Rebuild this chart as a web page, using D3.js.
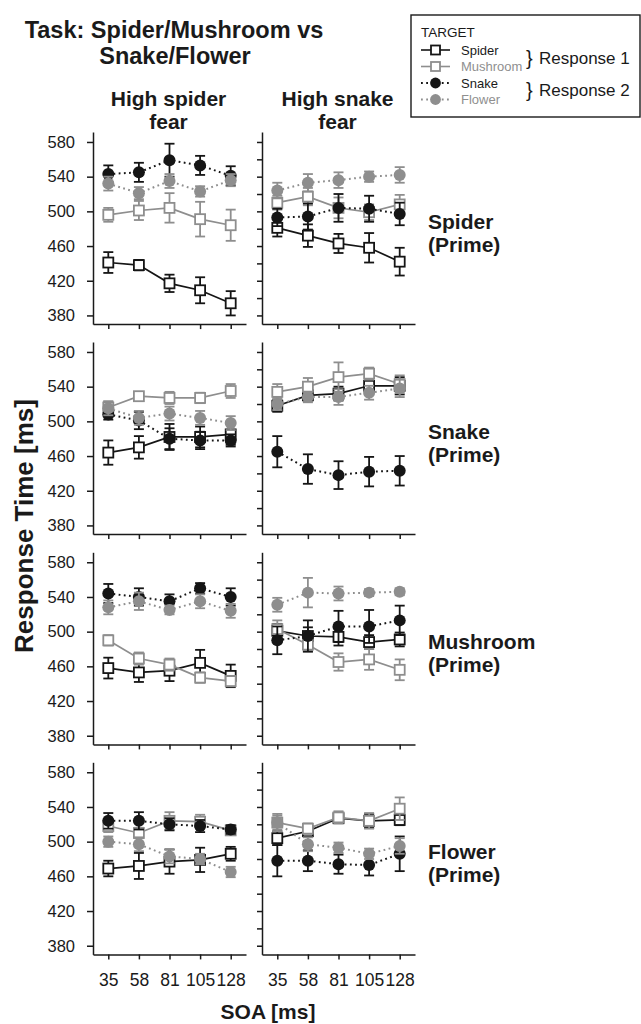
<!DOCTYPE html>
<html>
<head>
<meta charset="utf-8">
<script src="https://cdn.jsdelivr.net/npm/d3@7"></script>
<style>
  body { margin: 0; background: #fff; }
  svg { display: block; font-family: "Liberation Sans", Arial, sans-serif; }
  .axis path, .axis line { stroke: #1a1a1a; stroke-width: 1.5; }
  .axis text { fill: #1a1a1a; font-size: 16.5px; }
</style>
</head>
<body>
<svg width="641" height="1024"></svg>
<script>
// ---------------------------------------------------------------------
// Data: mean response times (ms) and error bars.
// Each panel array holds one row per target, in the order of `targets`.
// ---------------------------------------------------------------------
const soa     = ["35", "58", "81", "105", "128"];
const groups  = [["High spider", "fear"], ["High snake", "fear"]];
const primes  = ["Spider", "Snake", "Mushroom", "Flower"];
const targets = ["Spider", "Mushroom", "Snake", "Flower"];
const yTicksLeft  = [380, 420, 460, 500, 540, 580];
const yTicksRight = [380, 400, 420, 440, 460, 480, 500, 520, 540, 560, 580];

// Spider prime
const meanSpiderHiSpider = [[441, 438, 417, 409, 394], [496, 501, 504, 491, 484], [543, 545, 559, 553, 541], [532, 521, 535, 523, 536]];
const errSpiderHiSpider  = [[12, 6, 10, 15, 14], [8, 11, 17, 20, 18], [10, 11, 19, 11, 11], [8, 7, 8, 6, 7]];
const meanSpiderHiSnake  = [[481, 472, 463, 458, 442], [510, 517, 504, 499, 508], [493, 494, 504, 503, 497], [524, 533, 536, 540, 542]];
const errSpiderHiSnake   = [[10, 13, 11, 17, 16], [8, 10, 12, 9, 11], [10, 15, 16, 15, 13], [9, 10, 9, 6, 9]];
// Snake prime
const meanSnakeHiSpider  = [[464, 470, 482, 482, 485], [516, 529, 527, 527, 535], [508, 501, 480, 478, 478], [515, 504, 509, 504, 498]];
const errSnakeHiSpider   = [[14, 13, 15, 12, 12], [7, 5, 7, 6, 8], [6, 10, 12, 10, 7], [8, 8, 8, 8, 8]];
const meanSnakeHiSnake   = [[518, 530, 532, 541, 541], [534, 540, 551, 555, 543], [465, 445, 438, 442, 443], [520, 528, 528, 533, 538]];
const errSnakeHiSnake    = [[7, 6, 8, 10, 10], [9, 10, 17, 7, 10], [18, 17, 16, 17, 17], [7, 6, 9, 8, 10]];
// Mushroom prime
const meanMushHiSpider   = [[458, 453, 455, 464, 449], [490, 469, 462, 447, 443], [544, 540, 535, 550, 540], [528, 535, 525, 535, 524]];
const errMushHiSpider    = [[12, 11, 12, 15, 13], [6, 7, 7, 6, 6], [11, 10, 8, 6, 10], [8, 10, 5, 8, 8]];
const meanMushHiSnake    = [[501, 495, 494, 488, 491], [503, 485, 465, 468, 456], [490, 495, 506, 506, 513], [531, 545, 544, 545, 546]];
const errMushHiSnake     = [[8, 10, 10, 8, 8], [10, 8, 10, 12, 12], [16, 18, 18, 19, 17], [8, 17, 8, 4, 4]];
// Flower prime
const meanFlowerHiSpider = [[469, 472, 477, 479, 486], [518, 510, 524, 523, 513], [524, 524, 520, 518, 514], [500, 497, 483, 480, 465]];
const errFlowerHiSpider  = [[9, 15, 14, 14, 8], [7, 6, 10, 8, 5], [9, 10, 7, 7, 5], [6, 8, 8, 6, 6]];
const meanFlowerHiSnake  = [[504, 512, 527, 524, 525], [522, 515, 528, 524, 538], [478, 478, 474, 473, 486], [522, 497, 493, 486, 495]];
const errFlowerHiSnake   = [[8, 5, 5, 8, 6], [10, 6, 7, 9, 13], [18, 12, 11, 12, 20], [8, 8, 6, 6, 9]];

const panelMeans = [[meanSpiderHiSpider, meanSpiderHiSnake], [meanSnakeHiSpider, meanSnakeHiSnake],
                    [meanMushHiSpider, meanMushHiSnake], [meanFlowerHiSpider, meanFlowerHiSnake]];
const panelErrs  = [[errSpiderHiSpider, errSpiderHiSnake], [errSnakeHiSpider, errSnakeHiSnake],
                    [errMushHiSpider, errMushHiSnake], [errFlowerHiSpider, errFlowerHiSnake]];

// ---------------------------------------------------------------------
// Look of each target: colour, marker and line style
// ---------------------------------------------------------------------
const BLACK = "#151515", GRAY = "#8e8e8e";
const style = {
  Spider:   {color: BLACK, shape: "square", dash: null},
  Mushroom: {color: GRAY,  shape: "square", dash: null},
  Snake:    {color: BLACK, shape: "circle", dash: "1.8,3.4"},
  Flower:   {color: GRAY,  shape: "circle", dash: "1.8,3.4"}
};

const svg    = d3.select("svg"),
      colX   = [93, 262],
      rowY   = [132, 342, 552.3, 762.3],
      panelW = 153,
      panelH = 192.1;

const x = d3.scalePoint().domain(soa).range([0, panelW]).padding(0.5);
const y = d3.scaleLinear().domain([370, 591.5]).range([panelH, 0]);

function drawMarker(sel, shape, color, size) {
  if (shape === "square") {
    sel.append("rect")
      .attr("x", -size / 2).attr("y", -size / 2)
      .attr("width", size).attr("height", size)
      .attr("fill", "#fff").attr("stroke", color).attr("stroke-width", 1.8);
  } else {
    sel.append("circle")
      .attr("r", size * 0.6)
      .attr("fill", color);
  }
}

primes.forEach((prime, r) => {
  [0, 1].forEach(c => {
    let g = svg.append("g").attr("transform", `translate(${colX[c]},${rowY[r]})`);

    // axes
    let yAxis = d3.axisLeft(y)
      .tickValues(c === 0 ? yTicksLeft : yTicksRight)
      .tickSize(c === 0 ? 6 : 5).tickSizeOuter(0).tickPadding(12)
      .tickFormat(c === 0 ? d3.format("d") : "");
    g.append("g").attr("class", "axis").call(yAxis);

    let xAxis = d3.axisBottom(x).tickSize(5).tickSizeOuter(0).tickPadding(14.5)
      .tickFormat(r === 3 ? d => d : "");
    g.append("g").attr("class", "axis")
      .attr("transform", `translate(0,${panelH})`)
      .call(xAxis)
      .selectAll("text").style("font-size", "17.5px");

    // series
    targets.forEach((t, i) => {
      let s    = style[t],
          vals = panelMeans[r][c][i].map((v, k) => ({soa: soa[k], v: v, e: panelErrs[r][c][i][k]})),
          sg   = g.append("g");

      sg.append("path")
        .datum(vals)
        .attr("fill", "none")
        .attr("stroke", s.color)
        .attr("stroke-width", s.dash ? 2 : 1.7)
        .attr("stroke-dasharray", s.dash)
        .attr("d", d3.line().x(d => x(d.soa)).y(d => y(d.v)));

      let pts = sg.selectAll(".pt").data(vals).enter().append("g")
        .attr("transform", d => `translate(${x(d.soa)},0)`);
      pts.append("line")
        .attr("y1", d => y(d.v - d.e)).attr("y2", d => y(d.v + d.e))
        .attr("stroke", s.color).attr("stroke-width", 1.8);
      [-1, 1].forEach(sign => {
        pts.append("line")
          .attr("x1", -5).attr("x2", 5)
          .attr("y1", d => y(d.v + sign * d.e)).attr("y2", d => y(d.v + sign * d.e))
          .attr("stroke", s.color).attr("stroke-width", 1.8);
      });
      pts.append("g")
        .attr("transform", d => `translate(0,${y(d.v)})`)
        .each(function () { drawMarker(d3.select(this), s.shape, s.color, 10); });
    });

    // row label on the right
    if (c === 1) {
      let lab = svg.append("text")
        .attr("x", 428)
        .attr("font-weight", "bold").attr("font-size", "21px").attr("fill", "#1a1a1a");
      lab.append("tspan").attr("x", 428).attr("y", rowY[r] + 97).text(prime);
      lab.append("tspan").attr("x", 428).attr("y", rowY[r] + 120).text("(Prime)");
    }
  });
});

// ---------------------------------------------------------------------
// Titles
// ---------------------------------------------------------------------
let title = svg.append("text")
  .attr("text-anchor", "middle")
  .attr("font-weight", "bold").attr("font-size", "23.5px").attr("fill", "#1a1a1a");
title.append("tspan").attr("x", 174).attr("y", 38).text("Task: Spider/Mushroom vs");
title.append("tspan").attr("x", 175).attr("y", 64).text("Snake/Flower");

groups.forEach((lines, c) => {
  let t = svg.append("text")
    .attr("text-anchor", "middle")
    .attr("font-weight", "bold").attr("font-size", "21px").attr("fill", "#1a1a1a");
  lines.forEach((l, k) => {
    t.append("tspan").attr("x", colX[c] + panelW / 2 - 1).attr("y", 106 + k * 23).text(l);
  });
});

svg.append("text")
  .attr("transform", "translate(33,526) rotate(-90)")
  .attr("text-anchor", "middle")
  .attr("font-weight", "bold").attr("font-size", "26px").attr("fill", "#1a1a1a")
  .text("Response Time [ms]");

svg.append("text")
  .attr("x", 268).attr("y", 1019)
  .attr("text-anchor", "middle")
  .attr("font-weight", "bold").attr("font-size", "21px").attr("fill", "#1a1a1a")
  .text("SOA [ms]");

// ---------------------------------------------------------------------
// Legend
// ---------------------------------------------------------------------
let legend = svg.append("g");
legend.append("rect")
  .attr("x", 411).attr("y", 15).attr("width", 229).attr("height", 102)
  .attr("fill", "#fff").attr("stroke", "#1a1a1a").attr("stroke-width", 1.4);
legend.append("text")
  .attr("x", 421).attr("y", 37)
  .attr("font-size", "13.5px").attr("fill", "#1a1a1a")
  .text("TARGET");

const legendY = [50, 66.5, 83, 99.5];
targets.forEach((t, i) => {
  let s  = style[t],
      ly = legendY[i];
  legend.append("line")
    .attr("x1", 421).attr("x2", 450).attr("y1", ly).attr("y2", ly)
    .attr("stroke", s.color).attr("stroke-width", s.dash ? 2 : 1.6)
    .attr("stroke-dasharray", s.dash);
  let m = legend.append("g").attr("transform", `translate(435.5,${ly})`);
  drawMarker(m, s.shape, s.color, 9);
  legend.append("text")
    .attr("x", 461).attr("y", ly + 4.5)
    .attr("font-size", "13px").attr("fill", s.color === GRAY ? "#8f8f8f" : "#1a1a1a")
    .text(t);
});

[["Response 1", 64], ["Response 2", 96]].forEach(([txt, by]) => {
  legend.append("text")
    .attr("x", 526).attr("y", by + 1)
    .attr("font-size", "20px").attr("fill", "#1a1a1a")
    .text("}");
  legend.append("text")
    .attr("x", 539).attr("y", by)
    .attr("font-size", "17px").attr("fill", "#1a1a1a")
    .text(txt);
});
</script>
</body>
</html>
